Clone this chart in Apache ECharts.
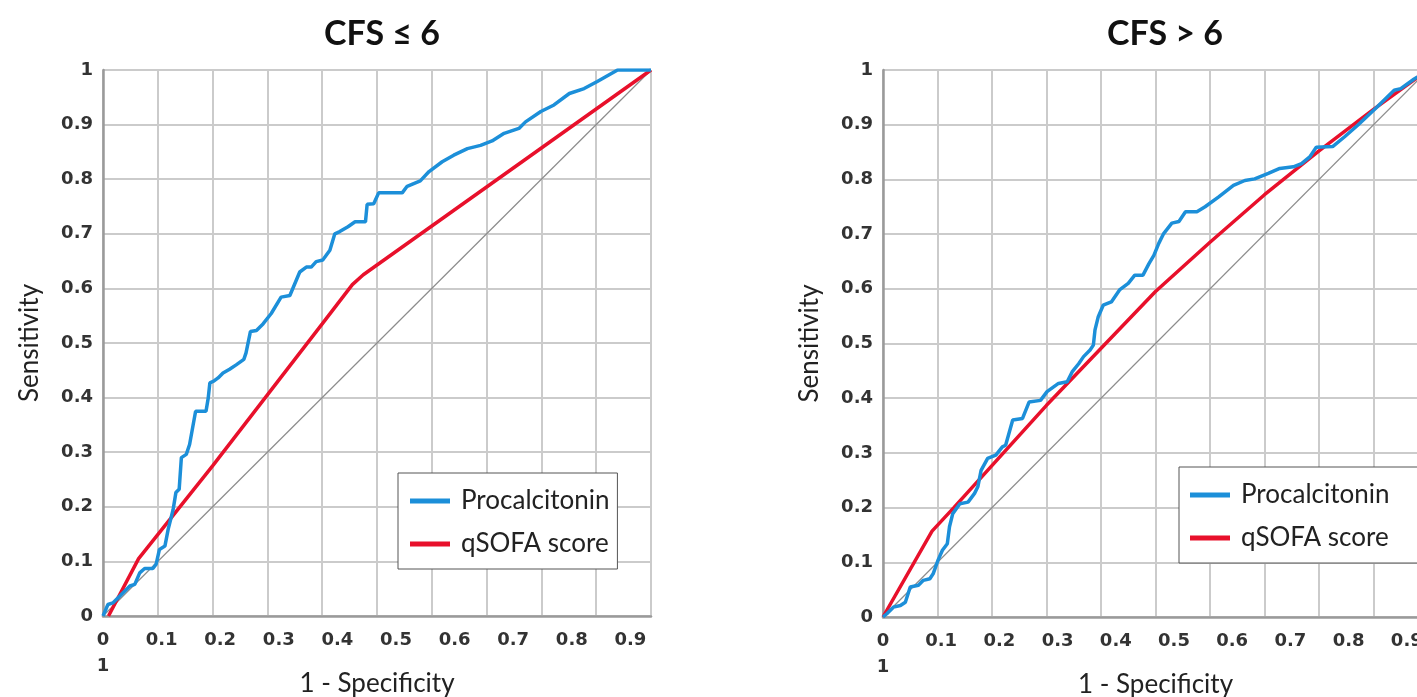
<!DOCTYPE html>
<html>
<head>
<meta charset="utf-8">
<script src="https://cdn.jsdelivr.net/npm/echarts@6/dist/echarts.min.js"></script>
<style>
html,body{margin:0;padding:0;background:#fff;}
#c{width:1417px;height:697px;}
</style>
</head>
<body>
<div id="c"></div>
<script>
// ---- data ----
const titles = ['CFS \u2264 6', 'CFS > 6'];
const seriesNames = ['Procalcitonin', 'qSOFA score'];
const xTickLabels = ['0','0.1','0.2','0.3','0.4','0.5','0.6','0.7','0.8','0.9','1'];
const yTickLabels = ['0','0.1','0.2','0.3','0.4','0.5','0.6','0.7','0.8','0.9','1'];

const pctLeft = [[0,0],[0.009,0.021],[0.018,0.024],[0.049,0.055],[0.058,0.058],[0.067,0.079],[0.076,0.087],[0.091,0.087],[0.097,0.095],[0.103,0.122],[0.113,0.128],[0.119,0.159],[0.128,0.195],[0.133,0.226],[0.139,0.232],[0.143,0.29],[0.152,0.296],[0.158,0.314],[0.169,0.375],[0.188,0.375],[0.192,0.399],[0.195,0.427],[0.202,0.43],[0.21,0.436],[0.219,0.445],[0.231,0.452],[0.243,0.46],[0.257,0.47],[0.261,0.482],[0.269,0.521],[0.28,0.523],[0.292,0.535],[0.307,0.554],[0.325,0.584],[0.341,0.587],[0.359,0.63],[0.371,0.639],[0.38,0.639],[0.389,0.649],[0.401,0.652],[0.414,0.67],[0.423,0.7],[0.432,0.704],[0.447,0.713],[0.46,0.722],[0.479,0.722],[0.482,0.754],[0.494,0.755],[0.503,0.775],[0.546,0.775],[0.555,0.787],[0.579,0.797],[0.595,0.814],[0.619,0.832],[0.64,0.844],[0.665,0.856],[0.689,0.862],[0.71,0.87],[0.732,0.884],[0.759,0.893],[0.771,0.905],[0.799,0.924],[0.823,0.936],[0.851,0.957],[0.878,0.966],[0.902,0.979],[0.939,1.0],[1.0,1.0]];
const qsofaLeft = [[0.01,0],[0.065,0.105],[0.2,0.275],[0.3,0.405],[0.4,0.535],[0.455,0.607],[0.475,0.625],[1,1]];

const pctRight = [[0,0],[0.007,0.006],[0.019,0.018],[0.032,0.021],[0.041,0.027],[0.05,0.055],[0.065,0.058],[0.074,0.067],[0.086,0.07],[0.092,0.079],[0.101,0.104],[0.109,0.122],[0.118,0.134],[0.122,0.165],[0.128,0.189],[0.141,0.207],[0.156,0.21],[0.168,0.226],[0.174,0.238],[0.18,0.268],[0.192,0.29],[0.207,0.296],[0.219,0.311],[0.225,0.314],[0.238,0.36],[0.256,0.363],[0.268,0.393],[0.289,0.396],[0.301,0.412],[0.322,0.427],[0.338,0.43],[0.347,0.448],[0.359,0.463],[0.368,0.476],[0.38,0.488],[0.386,0.497],[0.389,0.525],[0.395,0.549],[0.404,0.57],[0.419,0.576],[0.434,0.598],[0.45,0.61],[0.462,0.625],[0.477,0.625],[0.488,0.646],[0.497,0.661],[0.506,0.683],[0.515,0.701],[0.53,0.72],[0.543,0.723],[0.555,0.741],[0.576,0.741],[0.591,0.75],[0.616,0.768],[0.643,0.789],[0.664,0.798],[0.682,0.801],[0.707,0.811],[0.728,0.82],[0.753,0.823],[0.768,0.829],[0.783,0.841],[0.795,0.859],[0.825,0.86],[0.847,0.878],[0.871,0.899],[0.907,0.933],[0.938,0.963],[0.95,0.966],[0.974,0.983],[1,1]];
const qsofaRight = [[0,0],[0.09,0.157],[0.13,0.2],[0.3,0.387],[0.5,0.595],[0.6,0.685],[0.7,0.772],[0.8,0.852],[0.9,0.928],[1,1]];
const diagonal = [[0,0],[1,1]];

// ---- styles ----
const BLUE = '#1c8fd9', RED = '#e8102b';
const TXT = '#222';
const calibri = 'Lato, "Open Sans", sans-serif';
const tickFont = '"DejaVu Sans", Verdana, sans-serif';

const panels = [
  {grid:{left:103, top:70, width:548, height:546}, labelGrid:{left:103, width:586}, legend:{left:398, top:473, padding:[15, 8, 12, 12]}, pct:pctLeft, qs:qsofaLeft},
  {grid:{left:883, top:70, width:545, height:547}, labelGrid:{left:883, width:582}, legend:{left:1179, top:467, padding:[15, 30, 12, 11]}, pct:pctRight, qs:qsofaRight}
];

const option = {
  animation:false,
  backgroundColor:'#fff',
  title:[], grid:[], xAxis:[], yAxis:[], series:[], legend:[]
};

panels.forEach((p, i) => {
  const gMain = option.grid.length;
  option.grid.push({left:p.grid.left, top:p.grid.top, width:p.grid.width, height:p.grid.height, containLabel:false, outerBoundsMode:'none'});
  const gLab = option.grid.length;
  option.grid.push({left:p.labelGrid.left, top:p.grid.top + p.grid.height - 1, width:p.labelGrid.width, height:1, containLabel:false, outerBoundsMode:'none'});

  option.title.push({
    text: titles[i],
    left: i === 0 ? 377 : 1160,
    top: 12,
    textAlign:'center',
    textStyle:{fontFamily:calibri, fontWeight:'bold', fontSize:34, color:'#111'}
  });

  option.xAxis.push({
    type:'value', gridIndex:gMain, min:0, max:1, interval:0.1,
    name:'1 - Specificity', nameLocation:'middle', nameGap:55,
    nameTextStyle:{fontFamily:calibri, fontSize:26, color:TXT},
    axisLine:{show:true, lineStyle:{color:'#9a9a9a', width:2.5}},
    axisTick:{show:false},
    axisLabel:{show:false},
    splitLine:{show:true, lineStyle:{color:'#cbcbcb', width:2}}
  });
  option.yAxis.push({
    type:'value', gridIndex:gMain, min:0, max:1, interval:0.1,
    name:'Sensitivity', nameLocation:'middle', nameGap:60, nameRotate:90,
    nameTextStyle:{fontFamily:calibri, fontSize:26, color:TXT},
    axisLine:{show:true, lineStyle:{color:'#9a9a9a', width:2.5}},
    axisTick:{show:false},
    axisLabel:{show:true, margin:10, fontFamily:tickFont, fontWeight:'bold', fontSize:18, color:'#333', padding:[6,0,0,0],
      formatter:(v)=>yTickLabels[Math.round(v*10)]},
    splitLine:{show:true, lineStyle:{color:'#cbcbcb', width:2}}
  });

  // label-only axis (tick labels as drawn in the reference)
  option.xAxis.push({
    type:'value', gridIndex:gLab, min:0, max:1, interval:0.1,
    axisLine:{show:false}, axisTick:{show:false}, splitLine:{show:false},
    axisLabel:{show:true, margin:11, hideOverlap:false, fontFamily:tickFont, fontWeight:'bold', fontSize:18, color:'#333', lineHeight:26,
      formatter:(v)=>{const k=Math.round(v*10); if(k===0) return xTickLabels[0]+'\n'+xTickLabels[10]; if(k>=10) return ''; return xTickLabels[k];}}
  });
  option.yAxis.push({type:'value', gridIndex:gLab, min:0, max:1, show:false});

  const xi = gMain, yi = gMain;
  option.series.push({
    name:'reference'+i, type:'line', xAxisIndex:xi, yAxisIndex:yi, data:diagonal,
    symbol:'none', lineStyle:{color:'#8c8c8c', width:1.2}, silent:true, z:1
  });
  option.series.push({
    name:seriesNames[1], type:'line', xAxisIndex:xi, yAxisIndex:yi, data:p.qs,
    symbol:'none', smooth:false, lineStyle:{color:RED, width:3.5}, itemStyle:{color:RED}, z:2
  });
  option.series.push({
    name:seriesNames[0], type:'line', xAxisIndex:xi, yAxisIndex:yi, data:p.pct,
    symbol:'none', smooth:false, lineStyle:{color:BLUE, width:3.5}, itemStyle:{color:BLUE}, z:3
  });

  option.legend.push({
    data:[seriesNames[0], seriesNames[1]],
    orient:'vertical', left:p.legend.left, top:p.legend.top,
    padding:p.legend.padding, itemGap:17,
    itemWidth:40, itemHeight:5, icon:'rect',
    backgroundColor:'#fff', borderColor:'#555', borderWidth:1,
    textStyle:{fontFamily:calibri, fontSize:26, color:TXT, padding:[0,0,0,6]},
    selectedMode:false
  });
});

const chart = echarts.init(document.getElementById('c'), null, {renderer:'canvas'});
chart.setOption(option);
</script>
</body>
</html>
